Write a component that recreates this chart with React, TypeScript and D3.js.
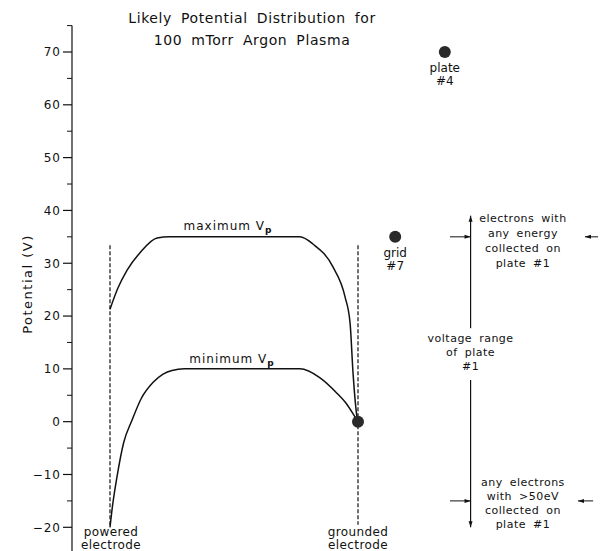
import React from "react";
import * as d3 from "d3";

const titleLines = ["Likely Potential Distribution for", "100 mTorr Argon Plasma"];
const yTicks = [-20, -10, 0, 10, 20, 30, 40, 50, 60, 70];
const yMinorTicks = [-25, -15, -5, 5, 15, 25, 35, 45, 55, 65, 75];
const yLabel = "Potential (V)";

// maximum plasma potential profile (position in % of gap, volts)
const maxPos = [0, 3.2, 6.9, 12.1, 19, 24, 50, 76.6, 81.9, 89.9, 94.8, 96.8, 98, 99.6, 100];
const maxVp = [21.3, 25.3, 28.7, 32, 34.8, 35, 35, 35, 33.6, 29.3, 23.6, 18.7, 9.2, 0.9, 0];
// minimum plasma potential profile
const minPos = [0, 1, 2.8, 5.5, 8.9, 12.5, 17.3, 21.4, 25, 30, 50, 76.6, 84.7, 91.5, 95.2, 98.8, 100];
const minVp = [-20, -16, -10.5, -4, 0.3, 4.3, 7.4, 9, 9.7, 10, 10, 10, 8.3, 5.4, 3.5, 0.9, 0];

// electrodes
const electrodePos = [0, 100];
const electrodeTop = [33.4, 33.4];
const electrodeBottom = [-20, -19.5];
const electrodeNames = [["powered", "electrode"], ["grounded", "electrode"]];

// measured points
const pointPos = [100, 115, 135];
const pointV = [0, 35, 70];
const pointLabels = [[], ["grid", "#7"], ["plate", "#4"]];

// plate #1 range annotation
const rangePos = 145.4;
const rangeTop = 39;
const rangeBottom = -20;
const rangeGapTop = 17.7;
const rangeGapBottom = 7.9;
const rangeText = ["voltage range", "of plate", "#1"];
const markerV = [35, -15];
const markerLeftFrom = [137.1, 137.1];
const markerRightFrom = [196.8, 194.8];
const markerRightTo = [191.5, 188.7];
const noteCenter = 166.5;
const noteTop = ["electrons with", "any energy", "collected on", "plate #1"];
const noteBottom = ["any electrons", "with >50eV", "collected on", "plate #1"];

const W = 604;
const H = 551;

export default function App() {
  const y = d3.scaleLinear().domain([-20, 70]).range([527.3, 52]);
  const x = d3.scaleLinear().domain([0, 100]).range([110, 358]);
  const axisX = 72;

  const line = d3
    .line<[number, number]>()
    .x((d) => x(d[0]))
    .y((d) => y(d[1]))
    .curve(d3.curveMonotoneX);

  const maxData = maxPos.map((p, i) => [p, maxVp[i]] as [number, number]);
  const minData = minPos.map((p, i) => [p, minVp[i]] as [number, number]);

  const font = "'DejaVu Sans', sans-serif";
  const ink = "#111";

  const arrowHead = (tx: number, ty: number, dir: "up" | "down" | "left" | "right", key: string) => {
    const L = 6;
    const w = 2;
    let pts = "";
    if (dir === "up") pts = `${tx},${ty} ${tx - w},${ty + L} ${tx + w},${ty + L}`;
    if (dir === "down") pts = `${tx},${ty} ${tx - w},${ty - L} ${tx + w},${ty - L}`;
    if (dir === "right") pts = `${tx},${ty} ${tx - L},${ty - w} ${tx - L},${ty + w}`;
    if (dir === "left") pts = `${tx},${ty} ${tx + L},${ty - w} ${tx + L},${ty + w}`;
    return <polygon key={key} points={pts} fill={ink} />;
  };

  const rx = x(rangePos);

  return (
    <svg
      width={W}
      height={H}
      style={{ position: "absolute", left: 0, top: 0, background: "#fff" }}
      fontFamily={font}
    >
      <rect x={0} y={0} width={W} height={H} fill="#fff" />
      {/* title */}
      {titleLines.map((t, i) => (
        <text
          key={t}
          x={252}
          y={23 + i * 22}
          textAnchor="middle"
          fontSize={14}
          letterSpacing={0.6}
          wordSpacing={4}
          fill={ink}
        >
          {t}
        </text>
      ))}

      {/* y axis */}
      <line x1={axisX} x2={axisX} y1={y(75)} y2={y(-25)} stroke={ink} strokeWidth={1.2} />
      {yMinorTicks.map((t) => (
        <line key={"m" + t} x1={axisX - 5} x2={axisX} y1={y(t)} y2={y(t)} stroke={ink} strokeWidth={1} />
      ))}
      {yTicks.map((t) => (
        <g key={"t" + t}>
          <line x1={axisX - 9} x2={axisX} y1={y(t)} y2={y(t)} stroke={ink} strokeWidth={1.2} />
          <text
            x={axisX - 11}
            y={y(t)}
            dy="0.36em"
            textAnchor="end"
            fontSize={12}
            letterSpacing={1}
            fill={ink}
          >
            {t < 0 ? "\u2212" + Math.abs(t) : t}
          </text>
        </g>
      ))}
      <text
        transform={`translate(27,284) rotate(-90)`}
        textAnchor="middle"
        dominantBaseline="central"
        fontSize={13}
        letterSpacing={1.5}
        fill={ink}
      >
        {yLabel}
      </text>

      {/* electrodes */}
      {electrodePos.map((p, i) => (
        <g key={"e" + i}>
          <line
            x1={x(p)}
            x2={x(p)}
            y1={y(electrodeTop[i])}
            y2={y(electrodeBottom[i])}
            stroke={ink}
            strokeWidth={1.2}
            strokeDasharray="4,2"
          />
          {electrodeNames[i].map((n, j) => (
            <text
              key={n}
              x={x(p) + (i === 0 ? 1 : 0)}
              y={536 + j * 13}
              textAnchor="middle"
              fontSize={12}
              letterSpacing={0.4}
              fill={ink}
            >
              {n}
            </text>
          ))}
        </g>
      ))}

      {/* curves */}
      <path d={line(maxData) || ""} fill="none" stroke={ink} strokeWidth={1.5} />
      <path d={line(minData) || ""} fill="none" stroke={ink} strokeWidth={1.5} />
      <text x={228} y={230} textAnchor="middle" fontSize={12} letterSpacing={1} fill={ink}>
        maximum  V
        <tspan fontSize={9} dy={3} fontWeight="bold">p</tspan>
      </text>
      <text x={232} y={363} textAnchor="middle" fontSize={12} letterSpacing={1} fill={ink}>
        minimum  V
        <tspan fontSize={9} dy={3} fontWeight="bold">p</tspan>
      </text>

      {/* points */}
      {pointPos.map((p, i) => (
        <g key={"p" + i}>
          <circle cx={x(p)} cy={y(pointV[i])} r={6} fill="#2a2a2a" />
          {pointLabels[i].map((l, j) => (
            <text
              key={l}
              x={x(p)}
              y={y(pointV[i]) + 20 + j * 13}
              textAnchor="middle"
              fontSize={12}
              fill={ink}
            >
              {l}
            </text>
          ))}
        </g>
      ))}

      {/* plate #1 range */}
      <line x1={rx} x2={rx} y1={y(rangeTop)} y2={y(rangeGapTop)} stroke={ink} strokeWidth={1.2} />
      <line x1={rx} x2={rx} y1={y(rangeGapBottom)} y2={y(rangeBottom)} stroke={ink} strokeWidth={1.2} />
      {arrowHead(rx, y(rangeTop), "up", "au")}
      {arrowHead(rx, y(rangeBottom), "down", "ad")}
      {rangeText.map((t, i) => (
        <text
          key={t}
          x={rx}
          y={342 + i * 14}
          textAnchor="middle"
          fontSize={11}
          letterSpacing={0.5}
          wordSpacing={3}
          fill={ink}
        >
          {t}
        </text>
      ))}
      {markerV.map((v, i) => (
        <g key={"mk" + i}>
          <line x1={x(markerLeftFrom[i])} x2={rx} y1={y(v)} y2={y(v)} stroke={ink} strokeWidth={1} />
          {arrowHead(rx, y(v), "right", "ar" + i)}
          <line
            x1={x(markerRightFrom[i])}
            x2={x(markerRightTo[i])}
            y1={y(v)}
            y2={y(v)}
            stroke={ink}
            strokeWidth={1}
          />
          {arrowHead(x(markerRightTo[i]), y(v), "left", "al" + i)}
        </g>
      ))}
      {noteTop.map((t, i) => (
        <text
          key={"nt" + i}
          x={x(noteCenter)}
          y={222 + i * 15}
          textAnchor="middle"
          fontSize={11}
          letterSpacing={0.5}
          wordSpacing={3}
          fill={ink}
        >
          {t}
        </text>
      ))}
      {noteBottom.map((t, i) => (
        <text
          key={"nb" + i}
          x={x(noteCenter)}
          y={486 + i * 14}
          textAnchor="middle"
          fontSize={11}
          letterSpacing={0.5}
          wordSpacing={3}
          fill={ink}
        >
          {t}
        </text>
      ))}
    </svg>
  );
}
